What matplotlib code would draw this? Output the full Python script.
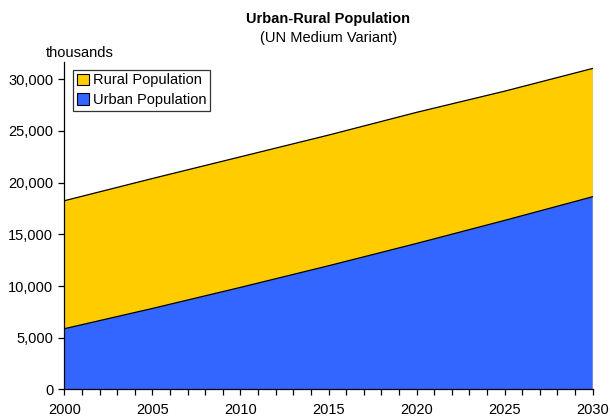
import matplotlib
matplotlib.use("Agg")
import matplotlib.pyplot as plt
from matplotlib.ticker import FuncFormatter, MultipleLocator
from matplotlib.patches import Patch

plt.rcParams['font.family'] = ['Liberation Sans', 'DejaVu Sans']

# data (thousands)
years = [2000, 2005, 2010, 2015, 2020, 2025, 2030]
urban = [5870, 7830, 9870, 11960, 14120, 16350, 18640]
rural = [12380, 12570, 12630, 12640, 12680, 12500, 12410]

total = [u + r for u, r in zip(urban, rural)]

fig = plt.figure(figsize=(6.10, 4.19), dpi=100)
ax = fig.add_axes([64.3 / 610, 1 - 389.4 / 419, (592.7 - 64.3) / 610, (389.4 - 62) / 419])

ax.fill_between(years, 0, urban, facecolor='#3366FF', edgecolor='none')
ax.fill_between(years, urban, total, facecolor='#FFCC00', edgecolor='none')
ax.plot(years, urban, color='black', lw=0.9)
ax.plot(years, total, color='black', lw=0.9)
ax.plot([years[-1], years[-1]], [0, total[-1]], color='#555533', lw=0.9)

ax.set_xlim(years[0], years[-1])
ax.set_ylim(0, max(total) * 1.02)

ax.xaxis.set_major_locator(MultipleLocator(5))
ax.xaxis.set_minor_locator(MultipleLocator(1))
ax.yaxis.set_major_locator(MultipleLocator(5000))
ax.yaxis.set_major_formatter(FuncFormatter(lambda v, p: f"{int(v):,}"))

for s in ['top', 'right']:
    ax.spines[s].set_visible(False)
for s in ['left', 'bottom']:
    ax.spines[s].set_linewidth(0.9)

ax.tick_params(axis='both', which='major', direction='out', length=4, width=0.9,
               labelsize=10.5, pad=4)
ax.tick_params(axis='x', which='minor', direction='out', length=4, width=0.9)
ax.tick_params(axis='x', pad=6)

handles = [Patch(facecolor='#FFCC00', edgecolor='black', lw=0.8, label='Rural Population'),
           Patch(facecolor='#3366FF', edgecolor='black', lw=0.8, label='Urban Population')]
leg = ax.legend(handles=handles, loc='upper left', bbox_to_anchor=(0.017, 0.977),
                fontsize=10.5, frameon=True, fancybox=False, edgecolor='black',
                handlelength=0.8, handleheight=0.8, handletextpad=0.3,
                borderpad=0.25, labelspacing=0.4, borderaxespad=0.0)
leg.get_frame().set_linewidth(0.9)

fig.text(0.538, 1 - 19 / 419, "Urban-Rural Population", ha='center', va='center',
         fontsize=10.5, fontweight='bold')
fig.text(0.538, 1 - 38 / 419, "(UN Medium Variant)", ha='center', va='center',
         fontsize=10.5)
fig.text(46 / 610, 1 - 53 / 419, "thousands", ha='left', va='center', fontsize=10.5)

fig.savefig("out.png", dpi=100)
